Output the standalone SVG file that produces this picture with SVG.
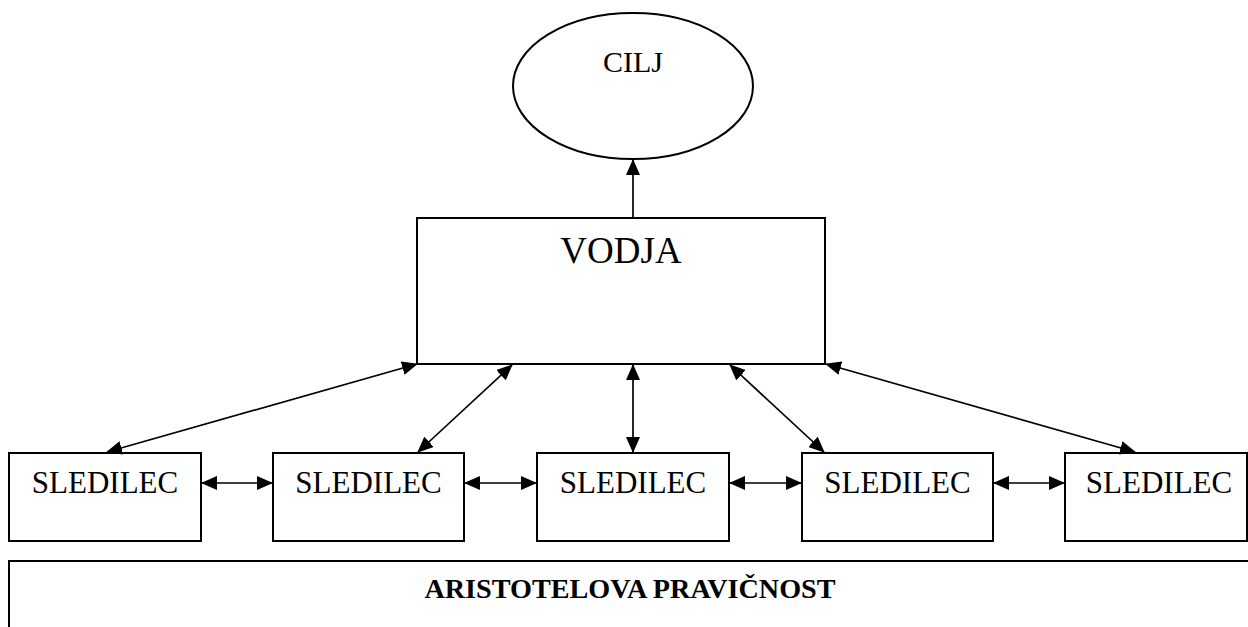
<svg xmlns="http://www.w3.org/2000/svg" width="1248" height="627" viewBox="0 0 1248 627">
<style>
.box{fill:#fff;stroke:#000;stroke-width:2}
.t{font-family:"Liberation Serif","Times New Roman",serif;fill:#000;text-anchor:middle}
.c{stroke:#000;stroke-width:1.7;fill:none}
</style>
<defs>
<marker id="ah" markerUnits="userSpaceOnUse" markerWidth="16" markerHeight="14" refX="15" refY="7" orient="auto-start-reverse" viewBox="0 0 16 14">
<path d="M0,0 L16,7 L0,14 z" fill="#000"/>
</marker>
</defs>
<rect width="1248" height="627" fill="#fff"/>
<g id="cilj">
<ellipse cx="633" cy="86" rx="120" ry="73" class="box"/>
<text x="633" y="72" class="t" font-size="30">CILJ</text>
</g>
<g id="vodja">
<rect x="417" y="218" width="408" height="146" class="box"/>
<text x="621" y="263" class="t" font-size="37">VODJA</text>
</g>
<g id="sledilec1">
<rect x="9" y="453" width="192" height="88" class="box"/>
<text x="105" y="493" class="t" font-size="31">SLEDILEC</text>
</g>
<g id="sledilec2">
<rect x="273" y="453" width="191" height="88" class="box"/>
<text x="368.5" y="493" class="t" font-size="31">SLEDILEC</text>
</g>
<g id="sledilec3">
<rect x="537" y="453" width="192" height="88" class="box"/>
<text x="633" y="493" class="t" font-size="31">SLEDILEC</text>
</g>
<g id="sledilec4">
<rect x="802" y="453" width="191" height="88" class="box"/>
<text x="897.5" y="493" class="t" font-size="31">SLEDILEC</text>
</g>
<g id="sledilec5">
<rect x="1065" y="453" width="182" height="88" class="box"/>
<text x="1159" y="493" class="t" font-size="31">SLEDILEC</text>
</g>
<g id="pravicnost">
<rect x="9" y="561" width="1250" height="80" class="box"/>
<text x="630" y="598" class="t" font-size="28.2" font-weight="bold">ARISTOTELOVA PRAVIČNOST</text>
</g>
<g id="connectors">
<line x1="633" y1="218" x2="633" y2="160" class="c" marker-end="url(#ah)"/>
<line x1="107" y1="452" x2="417" y2="364" class="c" marker-start="url(#ah)" marker-end="url(#ah)"/>
<line x1="418" y1="452" x2="512" y2="365" class="c" marker-start="url(#ah)" marker-end="url(#ah)"/>
<line x1="633" y1="452" x2="633" y2="365" class="c" marker-start="url(#ah)" marker-end="url(#ah)"/>
<line x1="824" y1="452" x2="730" y2="365" class="c" marker-start="url(#ah)" marker-end="url(#ah)"/>
<line x1="1135" y1="452" x2="826" y2="364" class="c" marker-start="url(#ah)" marker-end="url(#ah)"/>
<line x1="202" y1="483" x2="272" y2="483" class="c" marker-start="url(#ah)" marker-end="url(#ah)"/>
<line x1="465" y1="483" x2="536" y2="483" class="c" marker-start="url(#ah)" marker-end="url(#ah)"/>
<line x1="730" y1="483" x2="801" y2="483" class="c" marker-start="url(#ah)" marker-end="url(#ah)"/>
<line x1="994" y1="483" x2="1064" y2="483" class="c" marker-start="url(#ah)" marker-end="url(#ah)"/>
</g>
</svg>
